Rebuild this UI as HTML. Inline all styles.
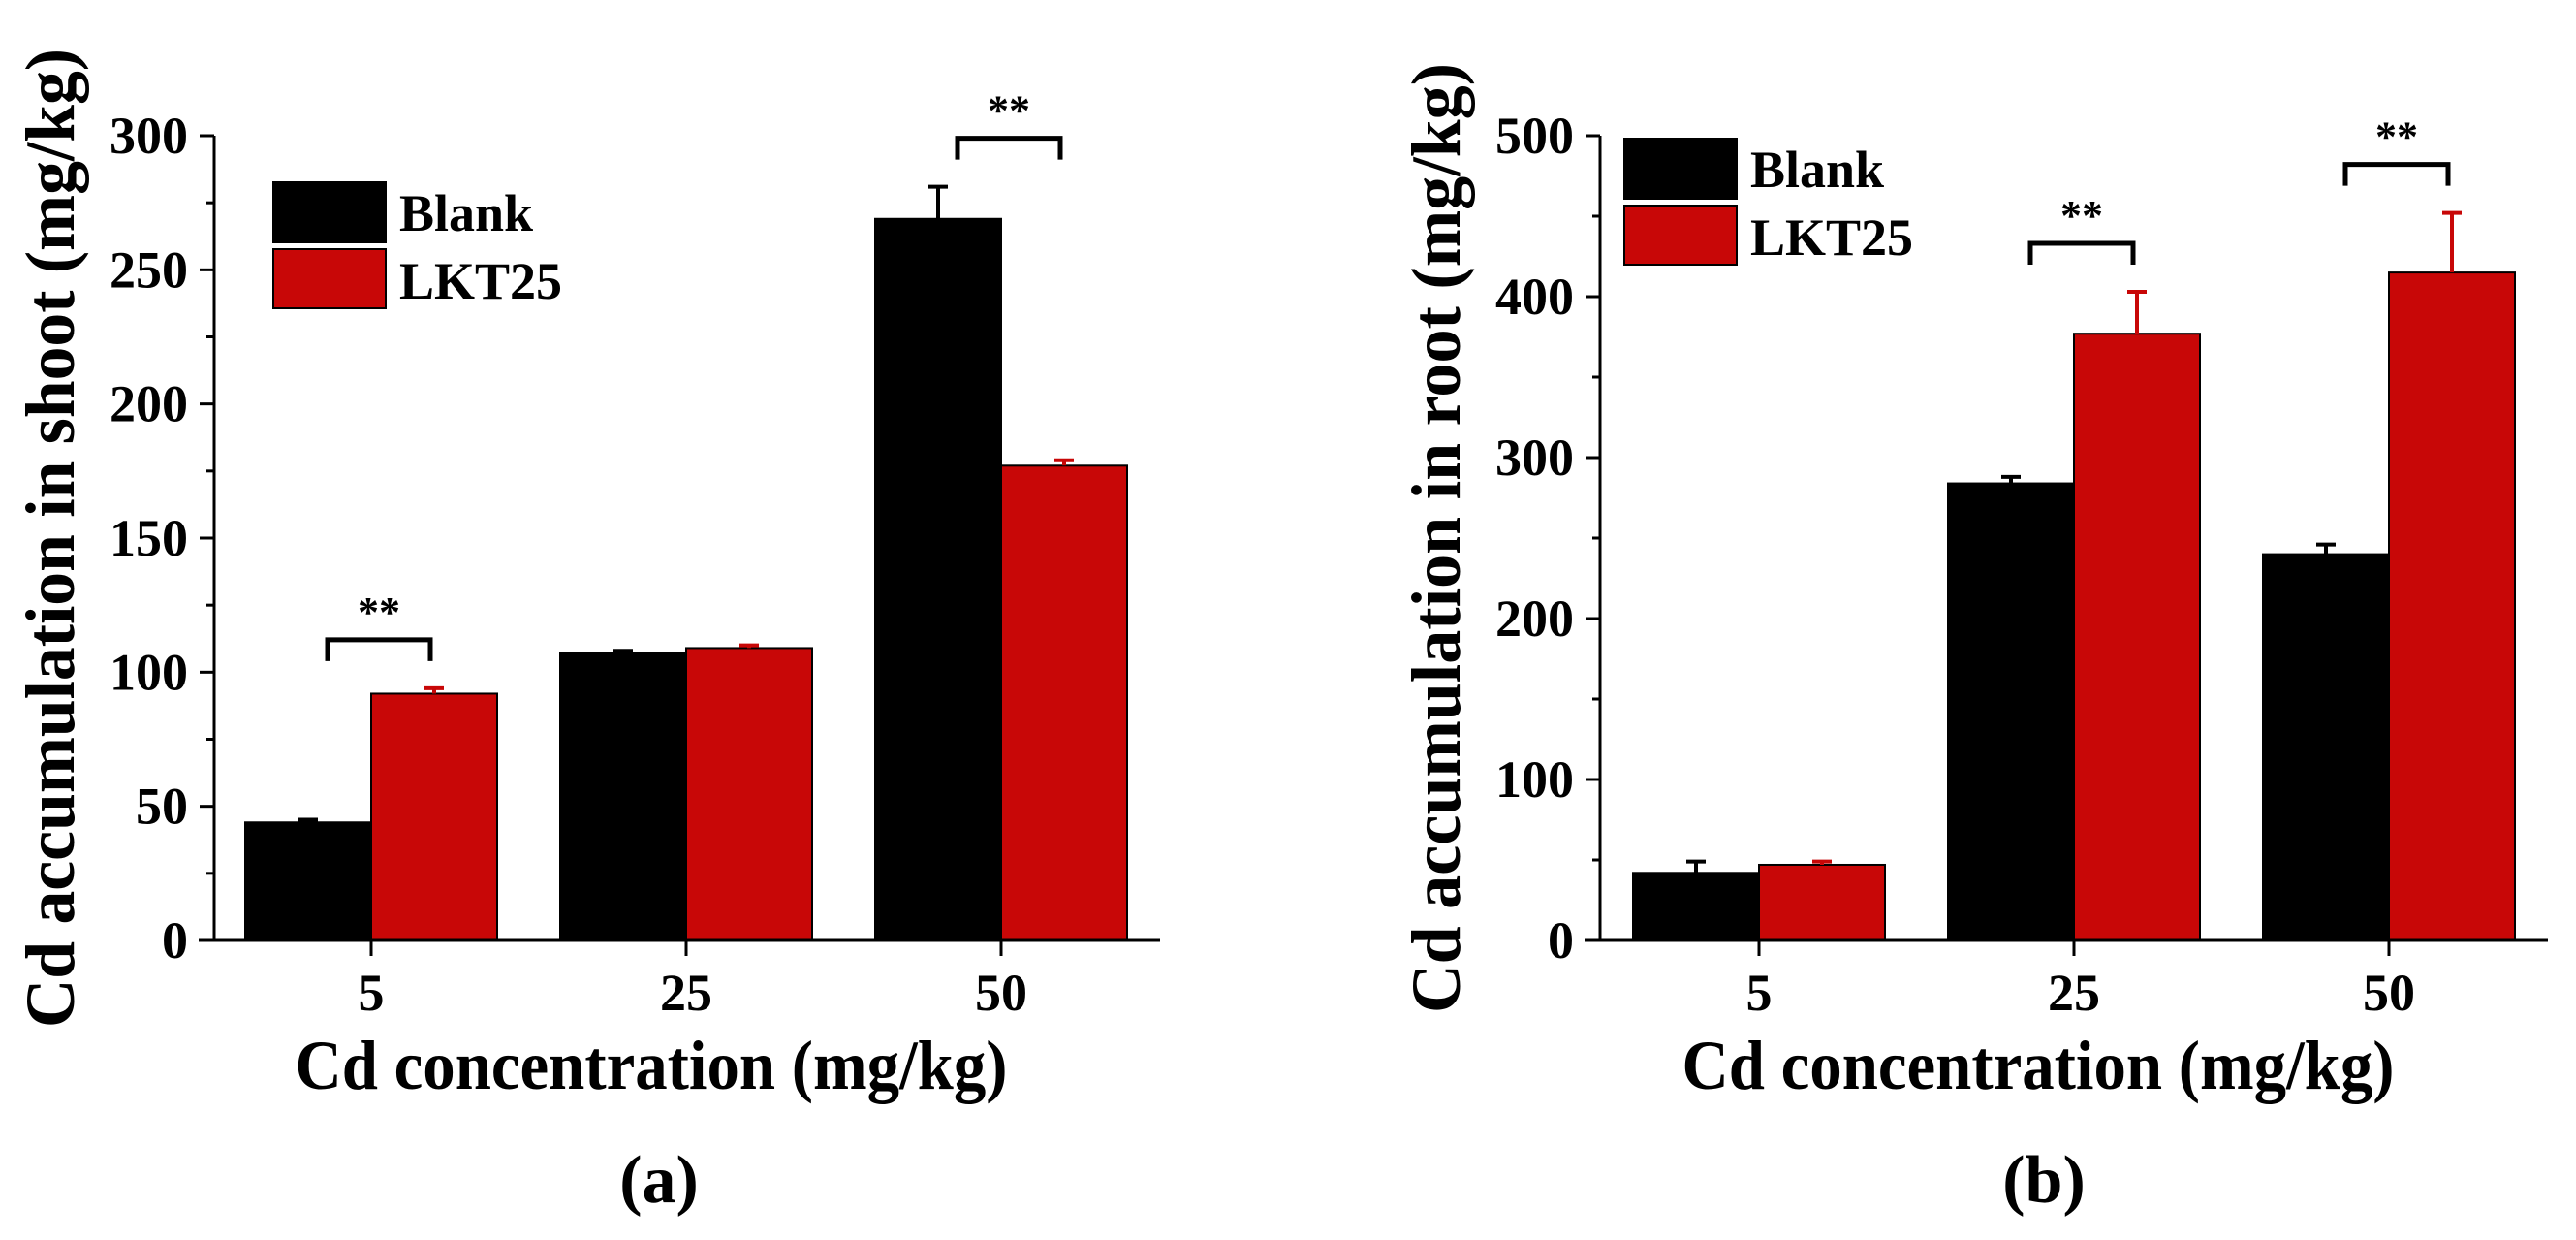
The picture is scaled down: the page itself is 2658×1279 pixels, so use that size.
<!DOCTYPE html>
<html><head><meta charset="utf-8"><style>
html,body{margin:0;padding:0;background:#fff;}
svg{display:block;font-family:"Liberation Serif",serif;font-weight:bold;}
</style></head><body>
<svg id="fig" width="2658" height="1279" viewBox="0 0 2658 1279"></svg>
<script>
const categories = ["5","25","50"];
const shootBlank = [44,107,269];
const shootBlankErr = [1,1,12];
const shootLKT = [92,109,177];
const shootLKTErr = [2,1,2];
const shootTicks = [0,50,100,150,200,250,300];
const rootBlank = [42,284,240];
const rootBlankErr = [7,4,6];
const rootLKT = [47,377,415];
const rootLKTErr = [2,26,37];
const rootTicks = [0,100,200,300,400,500];
const shootSig = [0,2];
const rootSig = [1,2];

const NS="http://www.w3.org/2000/svg";
const svg=document.getElementById('fig');
function mk(tag,attrs,parent,text){const e=document.createElementNS(NS,tag);for(const k in attrs)e.setAttribute(k,attrs[k]);if(text!==undefined)e.textContent=text;(parent||svg).appendChild(e);return e;}

function panel(cfg){
  const g=mk('g',{});
  
  
  const x0=cfg.ax, x1=cfg.axEnd, yB=970, yT=140;
  const ymax=cfg.ticks[cfg.ticks.length-1];
  const y=v=>yB-(v/ymax)*(yB-yT);
  const step=325, c0=cfg.c0;
  const cx=i=>c0+i*step;
  const bw=130;
  for(let i=0;i<categories.length;i++){
    const vb=cfg.blank[i], vl=cfg.lkt[i];
    const b=mk('rect',{x:cx(i)-bw,y:y(vb),width:bw,height:yB-y(vb),fill:'#000',stroke:'#000','stroke-width':2},g);
    
    
    const r=mk('rect',{x:cx(i),y:y(vl),width:bw,height:yB-y(vl),fill:'#c80707',stroke:'#000','stroke-width':2},g);
    
    
    const eb=mk('path',{d:`M${cx(i)-bw/2},${y(vb)} V${y(vb+cfg.blankErr[i])} M${cx(i)-bw/2-10},${y(vb+cfg.blankErr[i])} H${cx(i)-bw/2+10}`,stroke:'#000','stroke-width':4,fill:'none'},g);
    
    
    const el=mk('path',{d:`M${cx(i)+bw/2},${y(vl)} V${y(vl+cfg.lktErr[i])} M${cx(i)+bw/2-10},${y(vl+cfg.lktErr[i])} H${cx(i)+bw/2+10}`,stroke:'#c80707','stroke-width':4,fill:'none'},g);
    
    
    const t=mk('text',{x:cx(i),y:1042,'font-size':54,'text-anchor':'middle'},g,categories[i]);
    
    
    mk('line',{x1:cx(i),x2:cx(i),y1:yB,y2:yB+16,stroke:'#000','stroke-width':3},g);
  }
  const ya=mk('line',{x1:x0,x2:x0,y1:yT,y2:yB,stroke:'#000','stroke-width':3},g);
  
  
  const xa=mk('line',{x1:x0-16,x2:x1,y1:yB,y2:yB,stroke:'#000','stroke-width':3},g);
  
  
  for(let j=0;j<cfg.ticks.length;j++){
    const v=cfg.ticks[j];
    mk('line',{x1:x0-15,x2:x0,y1:y(v),y2:y(v),stroke:'#000','stroke-width':3},g);
    if(j<cfg.ticks.length-1){const m=(v+cfg.ticks[j+1])/2;mk('line',{x1:x0-8,x2:x0,y1:y(m),y2:y(m),stroke:'#000','stroke-width':3},g);}
    const t=mk('text',{x:x0-27,y:y(v)+18,'font-size':54,'text-anchor':'end'},g,String(v));
    
    
  }
  cfg.sig.forEach(i=>{
    const top=Math.max(cfg.blank[i]+cfg.blankErr[i],cfg.lkt[i]+cfg.lktErr[i]);
    const by=y(top)-cfg.gap, xl=cx(i)-bw/2+20, xr=cx(i)+bw/2-4;
    const p=mk('path',{d:`M${xl},${by+22} V${by} H${xr} V${by+22}`,stroke:'#000','stroke-width':5,fill:'none'},g);
    
    
    const s=mk('text',{x:(xl+xr)/2,y:by-14,'font-size':44,'text-anchor':'middle'},g,'**');
    
    
  });
  const L=cfg.leg;
  const lb=mk('rect',{x:L.x,y:L.y,width:116,height:62,fill:'#000',stroke:'#000','stroke-width':2},g);
  
  
  const lr=mk('rect',{x:L.x,y:L.y+69,width:116,height:61,fill:'#c80707',stroke:'#000','stroke-width':2},g);
  
  
  const t1=mk('text',{x:L.x+130,y:L.y+50,'font-size':54},g,'Blank');
  
  
  const t2=mk('text',{x:L.x+130,y:L.y+120,'font-size':54},g,'LKT25');
  
  
  const yt=mk('text',{x:0,y:0,'font-size':72,'text-anchor':'middle',textLength:cfg.ylen,lengthAdjust:'spacingAndGlyphs',transform:`translate(${cfg.ylx},${cfg.yly}) rotate(-90)`},g,cfg.ytitle);
  
  
  const xt=mk('text',{x:cfg.xtx,y:1123,'font-size':72,'text-anchor':'middle',textLength:735,lengthAdjust:'spacingAndGlyphs'},g,'Cd concentration (mg/kg)');
  
  
  const pl=mk('text',{x:cfg.plx,y:1240,'font-size':70,'text-anchor':'middle'},g,cfg.label);
  
  
}

panel({name:'panel-a-shoot',ax:221,axEnd:1197,c0:383,ticks:shootTicks,blank:shootBlank,blankErr:shootBlankErr,lkt:shootLKT,lktErr:shootLKTErr,sig:shootSig,gap:50,
  leg:{x:282,y:188},ytitle:'Cd accumulation in shoot (mg/kg)',ylx:76,yly:555,ylen:1010,xtx:672,plx:680,label:'(a)'});
panel({name:'panel-b-root',ax:1651,axEnd:2629,c0:1815,ticks:rootTicks,blank:rootBlank,blankErr:rootBlankErr,lkt:rootLKT,lktErr:rootLKTErr,sig:rootSig,gap:50,
  leg:{x:1676,y:143},ytitle:'Cd accumulation in root (mg/kg)',ylx:1506,yly:555,ylen:980,xtx:2103,plx:2109,label:'(b)'});
</script>
</body></html>
